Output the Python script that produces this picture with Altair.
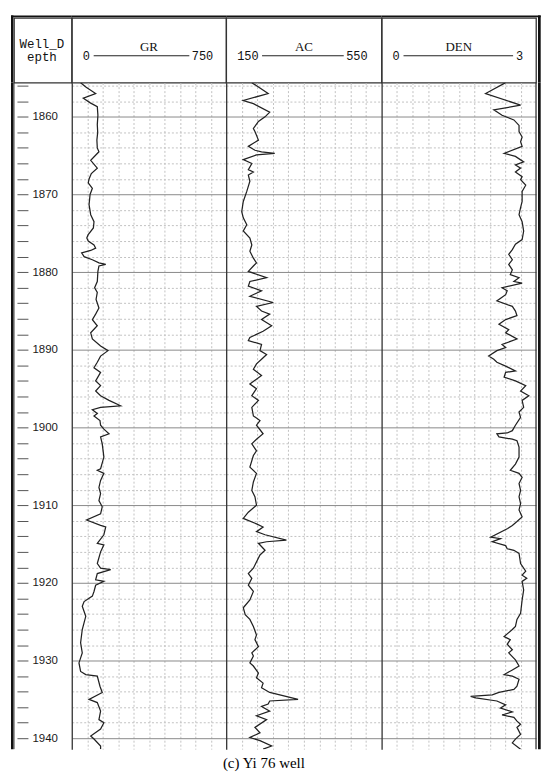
import altair as alt
import pandas as pd

# ---------------- data ----------------
gr_depth = [1855.6, 1856.2, 1857.0, 1857.6, 1858.2, 1858.7, 1859.8, 1861.0, 1862.0, 1863.0, 1864.0, 1864.5,
            1865.6, 1866.6, 1867.3, 1868.0, 1868.5, 1869.2, 1870.0, 1871.3, 1872.6, 1873.5, 1874.3, 1875.2,
            1875.6, 1876.0, 1876.5, 1876.9, 1877.2, 1877.5, 1878.0, 1878.4, 1878.8, 1879.0, 1879.2, 1879.9,
            1881.2, 1882.0, 1882.6, 1883.5, 1884.6, 1885.4, 1886.1, 1886.9, 1887.8, 1888.6, 1889.5, 1890.1,
            1890.8, 1891.6, 1892.3, 1892.9, 1894.0, 1894.6, 1895.3, 1895.9, 1896.5, 1897.2, 1897.4, 1897.7,
            1898.2, 1898.5, 1899.1, 1899.7, 1900.2, 1900.8, 1901.2, 1902.1, 1903.8, 1905.3, 1905.5, 1905.9,
            1906.8, 1907.7, 1908.5, 1909.4, 1910.2, 1911.1, 1911.9, 1912.6, 1912.8, 1913.8, 1914.9, 1915.1,
            1916.0, 1917.5, 1918.1, 1918.3, 1918.8, 1919.6, 1919.8, 1920.3, 1921.1, 1921.7, 1922.4, 1923.0,
            1924.3, 1926.0, 1927.7, 1929.0, 1930.3, 1931.4, 1931.8, 1932.0, 1933.3, 1934.1, 1935.0, 1935.4,
            1936.5, 1937.6, 1938.0, 1938.8, 1939.7, 1940.1, 1941.0, 1941.4]
gr_value = [43, 70, 116, 56, 90, 124, 127, 124, 126, 122, 124, 132,
            92, 124, 95, 84, 80, 100, 89, 84, 92, 108, 105, 79,
            73, 80, 108, 116, 92, 48, 60, 100, 132, 165, 132, 127,
            124, 111, 124, 118, 132, 116, 100, 124, 92, 100, 140, 176,
            140, 124, 108, 140, 116, 140, 116, 140, 181, 237, 140, 100,
            124, 108, 137, 140, 156, 181, 140, 148, 156, 140, 124, 156,
            140, 132, 140, 132, 148, 140, 72, 140, 165, 156, 124, 156,
            140, 124, 140, 189, 124, 116, 156, 116, 108, 100, 60, 51,
            68, 51, 43, 51, 35, 43, 68, 124, 137, 148, 84, 124,
            140, 132, 156, 140, 92, 108, 140, 140]

ac_depth = [1855.6, 1857.0, 1857.9, 1858.3, 1859.4, 1860.0, 1860.6, 1861.5, 1861.9, 1863.0, 1863.8, 1864.3,
            1864.5, 1864.7, 1864.9, 1865.5, 1866.0, 1866.8, 1867.1, 1867.5, 1868.3, 1869.6, 1870.9, 1872.2,
            1873.0, 1873.9, 1874.7, 1875.6, 1876.5, 1877.3, 1878.2, 1878.8, 1879.2, 1879.9, 1880.7, 1881.2,
            1881.8, 1882.4, 1883.1, 1883.9, 1884.4, 1885.0, 1885.4, 1886.1, 1886.9, 1887.6, 1888.4, 1888.8,
            1889.3, 1890.1, 1890.6, 1891.2, 1891.8, 1892.5, 1893.3, 1894.4, 1895.0, 1895.9, 1896.5, 1897.4,
            1898.5, 1899.1, 1899.7, 1900.8, 1901.5, 1902.1, 1903.0, 1903.6, 1905.1, 1905.9, 1907.0, 1908.1,
            1908.9, 1910.0, 1910.9, 1911.7, 1912.4, 1912.8, 1913.4, 1913.8, 1914.5, 1914.7, 1914.9, 1915.8,
            1916.4, 1918.1, 1918.8, 1919.4, 1920.3, 1921.1, 1922.2, 1923.2, 1924.1, 1924.7, 1925.6, 1926.7,
            1927.3, 1928.2, 1929.0, 1929.4, 1930.3, 1930.7, 1931.6, 1932.2, 1932.9, 1933.5, 1934.1, 1935.0,
            1935.2, 1935.6, 1935.9, 1936.5, 1937.1, 1937.6, 1938.6, 1939.3, 1939.9, 1940.3, 1941.0, 1941.4]
ac_value = [216, 258, 194, 220, 262, 250, 233, 220, 224, 233, 207, 224,
            241, 275, 228, 194, 216, 207, 220, 207, 211, 203, 194, 190,
            194, 203, 194, 211, 216, 211, 220, 228, 220, 207, 254, 211,
            207, 241, 211, 271, 228, 241, 262, 241, 267, 245, 211, 207,
            241, 237, 254, 241, 228, 220, 241, 211, 228, 216, 233, 216,
            220, 237, 228, 245, 228, 216, 228, 220, 211, 228, 220, 216,
            224, 228, 207, 194, 228, 245, 228, 250, 305, 254, 233, 250,
            237, 220, 207, 216, 207, 220, 211, 194, 199, 211, 220, 228,
            224, 233, 216, 220, 211, 220, 233, 228, 245, 241, 262, 335,
            262, 258, 241, 262, 228, 254, 224, 237, 211, 237, 267, 245]

den_depth = [1855.6, 1857.0, 1858.5, 1859.1, 1859.8, 1860.4, 1861.1, 1861.9, 1862.6, 1863.2, 1863.8, 1864.7,
             1865.1, 1865.8, 1866.2, 1866.6, 1867.1, 1867.7, 1868.1, 1868.8, 1869.6, 1870.9, 1871.7, 1872.6,
             1873.5, 1874.7, 1875.8, 1876.4, 1877.1, 1877.7, 1878.4, 1879.0, 1879.7, 1880.3, 1880.7, 1881.2,
             1881.4, 1882.0, 1882.4, 1882.9, 1883.7, 1884.4, 1885.0, 1885.6, 1886.1, 1886.7, 1887.4, 1887.8,
             1888.6, 1889.3, 1889.7, 1890.1, 1890.8, 1891.2, 1891.6, 1892.1, 1892.7, 1892.9, 1893.5, 1894.0,
             1894.6, 1895.3, 1895.9, 1896.5, 1897.4, 1898.0, 1898.7, 1899.7, 1900.4, 1900.7, 1900.8, 1901.2,
             1901.5, 1901.7, 1902.5, 1903.8, 1904.7, 1905.5, 1905.9, 1906.4, 1907.2, 1908.1, 1908.9, 1909.8,
             1910.6, 1911.5, 1912.1, 1912.6, 1913.0, 1914.1, 1914.3, 1914.7, 1915.2, 1915.6, 1915.8, 1916.2,
             1917.5, 1918.5, 1919.0, 1919.4, 1919.8, 1920.9, 1922.2, 1923.9, 1924.7, 1925.6, 1926.0, 1926.9,
             1927.3, 1927.9, 1928.6, 1929.0, 1929.9, 1930.7, 1931.2, 1931.8, 1932.0, 1932.4, 1933.3, 1933.7,
             1934.1, 1934.4, 1934.6, 1934.8, 1935.2, 1935.7, 1936.1, 1936.6, 1937.0, 1937.3, 1937.8, 1938.2,
             1938.6, 1939.5, 1940.1, 1940.6, 1941.4]
den_value = [2.41, 2.02, 2.70, 2.18, 2.34, 2.57, 2.67, 2.67, 2.73, 2.70, 2.73, 2.38,
             2.60, 2.76, 2.60, 2.70, 2.60, 2.73, 2.70, 2.80, 2.73, 2.73, 2.70, 2.67,
             2.73, 2.76, 2.73, 2.60, 2.54, 2.47, 2.54, 2.47, 2.54, 2.50, 2.67, 2.57,
             2.73, 2.34, 2.44, 2.41, 2.24, 2.54, 2.60, 2.63, 2.41, 2.28, 2.47, 2.41,
             2.63, 2.34, 2.41, 2.24, 2.08, 2.18, 2.24, 2.41, 2.60, 2.41, 2.38, 2.60,
             2.80, 2.70, 2.86, 2.73, 2.76, 2.67, 2.70, 2.60, 2.54, 2.44, 2.24, 2.28,
             2.54, 2.63, 2.67, 2.67, 2.60, 2.50, 2.67, 2.73, 2.67, 2.70, 2.67, 2.70,
             2.67, 2.73, 2.63, 2.54, 2.45, 2.12, 2.31, 2.15, 2.41, 2.44, 2.57, 2.67,
             2.70, 2.80, 2.73, 2.82, 2.73, 2.76, 2.73, 2.70, 2.63, 2.60, 2.54, 2.38,
             2.50, 2.44, 2.54, 2.47, 2.60, 2.67, 2.54, 2.38, 2.54, 2.67, 2.63, 2.57,
             2.28, 2.15, 1.73, 1.83, 2.24, 2.41, 2.31, 2.54, 2.34, 2.57, 2.63, 2.70,
             2.63, 2.70, 2.60, 2.54, 2.70]

track_names = ["GR", "AC", "DEN"]
track_min = [0, 150, 0]
track_max = [750, 550, 3]
depth_top, depth_bottom = 1855.6, 1941.4
depth_ticks = list(range(1856, 1942, 2))
depth_header = ["Well_D", "epth"]
caption = "(c) Yi 76 well"

# ---------------- layout / style ----------------
DEPTH_W = 58
TRACK_W = [155, 156, 155]
HEADER_H = 65
BODY_H = 669
BORDER = "#333333"
FRAME = "#111111"
MINOR = "#c2c2c2"
MAJOR = "#8a8a8a"
CURVE = "#222222"
MONO = "Liberation Mono"
SERIF = "Liberation Serif"

one = pd.DataFrame({"k": [0]})
y_scale = alt.Scale(domain=[depth_top, depth_bottom], reverse=True, nice=False, zero=False)


def vrule(x, y0, y1, color, width):
    return alt.Chart(one).mark_rule(color=color, strokeWidth=width).encode(
        x=alt.value(x), y=alt.value(y0), y2=alt.value(y1))


def hrule(y, x0, x1, color, width):
    return alt.Chart(one).mark_rule(color=color, strokeWidth=width).encode(
        y=alt.value(y), x=alt.value(x0), x2=alt.value(x1))


def band(x0, x1, y0, y1):
    # thick outer frame piece (filled, no stroke so its bounds are exact)
    return alt.Chart(one).mark_rect(color=FRAME, strokeWidth=0).encode(
        x=alt.value(x0), x2=alt.value(x1), y=alt.value(y0), y2=alt.value(y1))


def text(t, x, y, font, size, align="center"):
    return alt.Chart(one).mark_text(text=t, font=font, fontSize=size, align=align,
                                    baseline="middle", color="#111111").encode(
        x=alt.value(x), y=alt.value(y))


header_view = alt.ViewBackground(stroke=BORDER, strokeWidth=1.3)

# depth header
depth_hdr = alt.layer(
    text(depth_header[0], DEPTH_W / 2 - 1, 26, MONO, 12.5),
    text(depth_header[1], DEPTH_W / 2 - 1, 39, MONO, 12.5),
    band(-3, -0.6, -2.5, HEADER_H),
    band(-3, DEPTH_W, -2.5, -0.7),
).properties(width=DEPTH_W, height=HEADER_H, view=header_view)

headers = [depth_hdr]
CW = 7.0
for i, w in enumerate(TRACK_W):
    lo_txt = f"{track_min[i]}"
    hi_txt = f"{track_max[i]}"
    x_lo = 11
    x_hi = 142
    last = i == len(TRACK_W) - 1
    layers = [
        text(track_names[i], w / 2, 29, SERIF, 13),
        text(lo_txt, x_lo, 38, MONO, 12, align="left"),
        text(hi_txt, x_hi, 38, MONO, 12, align="right"),
        hrule(38, x_lo + len(lo_txt) * CW + 4, x_hi - len(hi_txt) * CW - 3, "#222222", 1),
        band(0, w + (4.7 if last else 0), -2.5, -0.7),
    ]
    if last:
        layers.append(band(w + 2, w + 4.7, -2.5, HEADER_H))
    headers.append(alt.layer(*layers).properties(width=w, height=HEADER_H, view=header_view))

# depth body
depth_axis = alt.Chart(pd.DataFrame({"depth": depth_ticks})).mark_point(opacity=0).encode(
    y=alt.Y("depth:Q", scale=y_scale,
            axis=alt.Axis(orient="right", offset=-(DEPTH_W - 3), values=depth_ticks, format="d",
                          labelExpr="datum.value % 10 === 0 ? datum.label : ''",
                          tickSize=11, tickColor="#555555", tickWidth=1, labelPadding=4,
                          labelFont="Liberation Sans", labelFontSize=11.5, labelColor="#1a1a1a",
                          domain=False, grid=False, title=None, minExtent=0))
)
depth_body = alt.layer(
    depth_axis,
    vrule(0, 0, BODY_H, BORDER, 1),
    band(-3, -0.6, 0, BODY_H),
).properties(width=DEPTH_W, height=BODY_H)

bodies = [depth_body]
curves = [(gr_depth, gr_value), (ac_depth, ac_value), (den_depth, den_value)]
for i, w in enumerate(TRACK_W):
    lo, hi = track_min[i], track_max[i]
    xgrid = [lo + (hi - lo) * k / 10 for k in range(1, 10)]
    df = pd.DataFrame({"depth": curves[i][0], "value": curves[i][1]})
    line = alt.Chart(df).mark_line(color=CURVE, strokeWidth=1.25, clip=True).encode(
        x=alt.X("value:Q", scale=alt.Scale(domain=[lo, hi], nice=False, zero=False),
                axis=alt.Axis(orient="top", values=xgrid, grid=True, gridColor=MINOR, gridDash=[2, 2],
                              gridWidth=1, labels=False, ticks=False, domain=False, title=None,
                              minExtent=0)),
        y=alt.Y("depth:Q", scale=y_scale,
                axis=alt.Axis(orient="left", values=depth_ticks, grid=True,
                              gridColor={"condition": {"test": "datum.value % 10 === 0", "value": MAJOR},
                                         "value": MINOR},
                              gridDash={"condition": {"test": "datum.value % 10 === 0", "value": []},
                                        "value": [2, 2]},
                              gridWidth=1, labels=False, ticks=False, domain=True,
                              domainColor=BORDER, domainWidth=1.3, title=None, minExtent=0)),
        order="depth:Q",
    )
    layers = [line]
    if i == len(TRACK_W) - 1:
        layers.append(vrule(w, 0, BODY_H, BORDER, 1.3))
        layers.append(band(w + 2, w + 4.7, 0, BODY_H))
    bodies.append(alt.layer(*layers).properties(width=w, height=BODY_H))

chart = alt.concat(*headers, *bodies, columns=4, spacing=0, bounds="flush").properties(
    title=alt.TitleParams(caption, orient="bottom", anchor="middle", font=SERIF, fontSize=15,
                          fontWeight="normal", color="#000000", offset=6, dx=-12),
    padding={"left": 2, "top": 4.5, "right": 0, "bottom": 0},
).configure_view(strokeWidth=0)

chart.save("out.html", embed_options={"renderer": "svg", "actions": False})
